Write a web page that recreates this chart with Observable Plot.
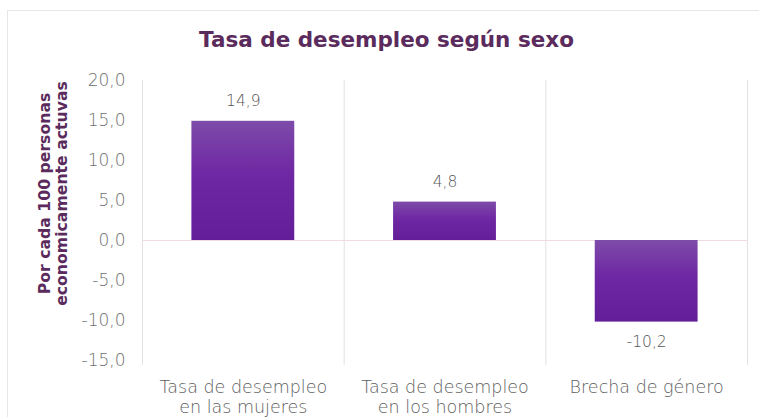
<!DOCTYPE html>
<html>
<head>
<meta charset="utf-8">
<script src="https://cdn.jsdelivr.net/npm/d3@7"></script>
<script src="https://cdn.jsdelivr.net/npm/@observablehq/plot@0.6"></script>
<style>
  html, body { margin: 0; padding: 0; background: #fff; width: 759px; height: 417px; overflow: hidden; }
  #card { position: absolute; left: 7px; top: 10px; width: 800px; height: 500px; border-left: 1px solid #e6e6e6; border-top: 1px solid #e6e6e6; }
  #title { position: absolute; left: 0; top: 27px; width: 773px; text-align: center; font-family: "DejaVu Sans", sans-serif; font-weight: 700; font-size: 21.5px; line-height: 25px; color: #5a2b5c; white-space: nowrap; }
  #chart { position: absolute; left: 0; top: 60px; }
  #chart svg { overflow: visible; }
</style>
</head>
<body>
<div id="card"></div>
<div id="title">Tasa de desempleo según sexo</div>
<div id="chart"></div>
<script>
const categories = ["Tasa de desempleo\nen las mujeres", "Tasa de desempleo\nen los hombres", "Brecha de género"];
const values = [14.9, 4.8, -10.2];
const yTicks = [-15, -10, -5, 0, 5, 10, 15, 20];
const yLabel = "Por cada 100 personas\neconomicamente actuvas";

const data = categories.map((c, i) => ({cat: c, i, value: values[i]}));
const boundaries = d3.range(categories.length + 1);
const fmt = d => d.toFixed(1).replace(".", ",");

const chart = Plot.plot({
  width: 759,
  height: 357,
  marginLeft: 142,
  marginRight: 12,
  marginTop: 20,
  marginBottom: 57,
  style: {fontFamily: "DejaVu Sans, sans-serif", background: "transparent"},
  x: {type: "linear", domain: [0, categories.length], axis: null},
  y: {domain: [-15, 20], axis: null},
  marks: [
    () => {
      const ns = "http://www.w3.org/2000/svg";
      const defs = document.createElementNS(ns, "defs");
      defs.innerHTML = `<linearGradient id="barGrad" x1="0" y1="0" x2="0" y2="1">
        <stop offset="0" stop-color="#7d4ba9"/>
        <stop offset="0.45" stop-color="#6f27a3"/>
        <stop offset="1" stop-color="#621e98"/>
      </linearGradient>`;
      return defs;
    },
    Plot.ruleX(boundaries, {x: d => d, y1: -15.6, y2: 20, stroke: "#e4e0e4", strokeWidth: 1}),
    Plot.ruleY([0], {stroke: "#f0dbe4", strokeWidth: 1}),
    Plot.rectY(data, {x1: d => d.i + 0.245, x2: d => d.i + 0.755, y1: 0, y2: "value", fill: "url(#barGrad)"}),
    Plot.axisY(yTicks, {tickSize: 0, tickPadding: 17, tickFormat: fmt, fontSize: 17, fontWeight: 200, fill: "#6e6e6e", label: null}),
    Plot.text(data.filter(d => d.value >= 0), {x: d => d.i + 0.5, y: "value", text: d => fmt(d.value), dy: -20, fontSize: 15.5, fontWeight: 200, fill: "#555"}),
    Plot.text(data.filter(d => d.value < 0), {x: d => d.i + 0.5, y: "value", text: d => fmt(d.value), dy: 20, fontSize: 15.5, fontWeight: 200, fill: "#555"}),
    Plot.text(data, {x: d => d.i + 0.5, frameAnchor: "bottom", text: "cat", lineAnchor: "top", dy: 18, fontSize: 17.5, fontWeight: 200, fill: "#5e5e5e", lineHeight: 1.15}),
    Plot.text([yLabel], {frameAnchor: "left", text: d => d, rotate: -90, textAnchor: "middle", dx: -89.5, dy: -27, fontSize: 15.7, fontWeight: "bold", fill: "#5a2b5c", lineHeight: 1.08})
  ]
});
document.getElementById("chart").appendChild(chart);
</script>
</body>
</html>
